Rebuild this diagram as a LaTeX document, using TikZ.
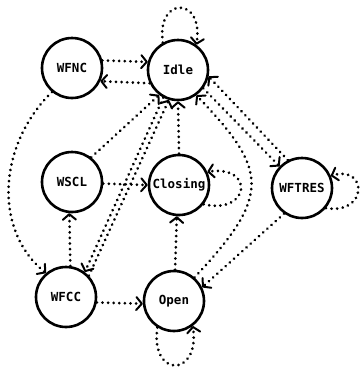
\documentclass[tikz,border=0pt]{standalone}
\usepackage{fontspec}
\newfontfamily\plotfont{DejaVu Sans Mono}
\usetikzlibrary{arrows.meta}
\tikzset{
  state/.style={circle, draw, line width=2.6pt, minimum size=60pt, inner sep=0pt,
    font=\plotfont\bfseries\fontsize{12.5}{12.5}\selectfont},
  edge/.style={line width=3pt, line cap=round, dash pattern=on 0.01pt off 5.6pt,
    -{Straight Barb[length=5.5pt,width=13pt,line width=2pt,round]}}
}
\begin{document}
\begin{tikzpicture}[x=1pt,y=-1pt]
\useasboundingbox (0,0) rectangle (361,370);
\node[state] (WFNC) at (72,68) {WFNC};
\node[state] (Idle) at (178,70) {Idle};
\node[state] (WSCL) at (72,182) {WSCL};
\node[state] (Closing) at (179,185) {Closing};
\node[state] (WFTRES) at (302,188) {WFTRES};
\node[state] (WFCC) at (66,297) {WFCC};
\node[state] (Open) at (174,301) {Open};

\draw[edge] (Idle.119) .. controls (156,-4) and (204,-4) .. (Idle.54);
\draw[edge] (WFNC.14) -- (Idle.165);
\draw[edge] (Idle.205) -- (WFNC.-25);
\draw[edge] (WFNC.230) .. controls (-2,145) and (-7,230) .. (WFCC.130);
\draw[edge] (WSCL.52) -- (Idle.233);
\draw[edge] (WSCL.-3) -- (Closing.180);
\draw[edge] (WFCC.82) -- (WSCL.265);
\draw[edge] (Idle.242) -- (WFCC.53);
\draw[edge] (WFCC.43) -- (Idle.253);
\draw[edge] (Closing.90) -- (Idle.270);
\draw[edge] (Closing.-38) .. controls (250,215) and (255,165) .. (Closing.25);
\draw[edge] (WFTRES.117) -- (Idle.-12);
\draw[edge] (Idle.-36) -- (WFTRES.136);
\draw[edge] (WFTRES.-40) .. controls (368,215) and (368,165) .. (WFTRES.23);
\draw[edge] (WFTRES.235) -- (Open.26);
\draw[edge] (Open.88) -- (Closing.266);
\draw[edge] (Open.49) .. controls (272,195) and (268,170) .. (Idle.-54);
\draw[edge] (WFCC.-10) -- (Open.185);
\draw[edge] (Open.238) .. controls (150,378) and (200,378) .. (Open.-53);
\end{tikzpicture}
\end{document}
